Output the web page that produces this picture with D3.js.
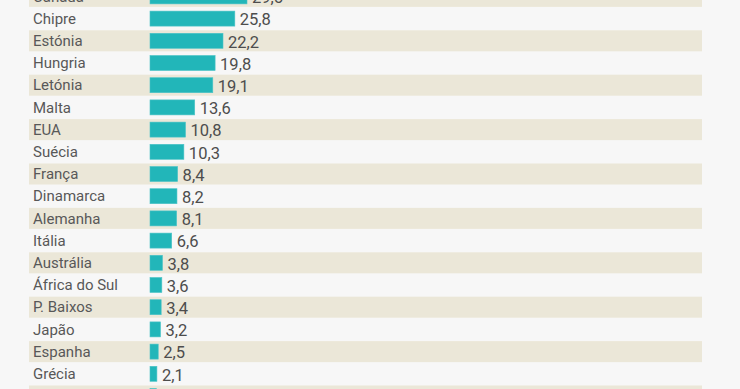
<!DOCTYPE html>
<html>
<head>
<meta charset="utf-8">
<script src="https://cdn.jsdelivr.net/npm/d3@7"></script>
<style>
  html, body { margin: 0; padding: 0; background: #f7f7f7; overflow: hidden; }
  svg { display: block; }
  .name { font-family: Roboto, "Noto Sans", sans-serif; font-size: 15px; fill: #585858; }
  .value { font-family: Roboto, "Noto Sans", sans-serif; font-size: 16.5px; fill: #4d4d4d; }
</style>
</head>
<body>
<div class="wrapper"></div>
<script>
// countries, top to bottom (first and last rows are cut off in the picture)
const countries = ["Canadá", "Chipre", "Estónia", "Hungria", "Letónia", "Malta", "EUA", "Suécia",
    "França", "Dinamarca", "Alemanha", "Itália", "Austrália", "África do Sul", "P. Baixos",
    "Japão", "Espanha", "Grécia", ""];
const values = [29.5, 25.8, 22.2, 19.8, 19.1, 13.6, 10.8, 10.3, 8.4, 8.2, 8.1, 6.6, 3.8, 3.6, 3.4,
    3.2, 2.5, 2.1, 1.9];

const width = 740, height = 389;
const rowStep = 22.2;
const top0 = -14.7;

const data = countries.map((c, i) => ({name: c, value: values[i]}));

const svg = d3.select(".wrapper").append("svg")
    .attr("width", width)
    .attr("height", height);

const y = d3.scaleBand()
    .domain(d3.range(data.length))
    .range([top0, top0 + rowStep * data.length]);

const x = d3.scaleLinear()
    .domain([0, 29.5])
    .range([150, 247]);

const fmt = v => d3.format(".1f")(v).replace(".", ",");

const row = svg.selectAll("g.row")
    .data(data)
    .enter().append("g")
    .attr("class", "row")
    .attr("transform", (d, i) => "translate(0," + y(i) + ")");

// alternating beige bands
row.filter((d, i) => i % 2 === 0)
    .append("rect")
    .attr("x", 29)
    .attr("y", 0.6)
    .attr("width", 673)
    .attr("height", y.bandwidth() - 1.2)
    .style("fill", "#ebe7d8");

row.append("text")
    .attr("class", "name")
    .attr("x", 33)
    .attr("y", y.bandwidth() / 2)
    .attr("dy", "0.35em")
    .text(d => d.name);

row.append("rect")
    .attr("x", x(0))
    .attr("y", y.bandwidth() / 2 - 7.5)
    .attr("width", d => x(d.value) - x(0))
    .attr("height", 15)
    .style("fill", "#22b6b9")
    .style("stroke", "#4cc4c7")
    .style("stroke-width", 0.6);

row.filter(d => d.name !== "")
    .append("text")
    .attr("class", "value")
    .attr("x", d => x(d.value) + 5)
    .attr("y", y.bandwidth() / 2 + 1)
    .attr("dy", "0.35em")
    .text(d => fmt(d.value));
</script>
</body>
</html>
